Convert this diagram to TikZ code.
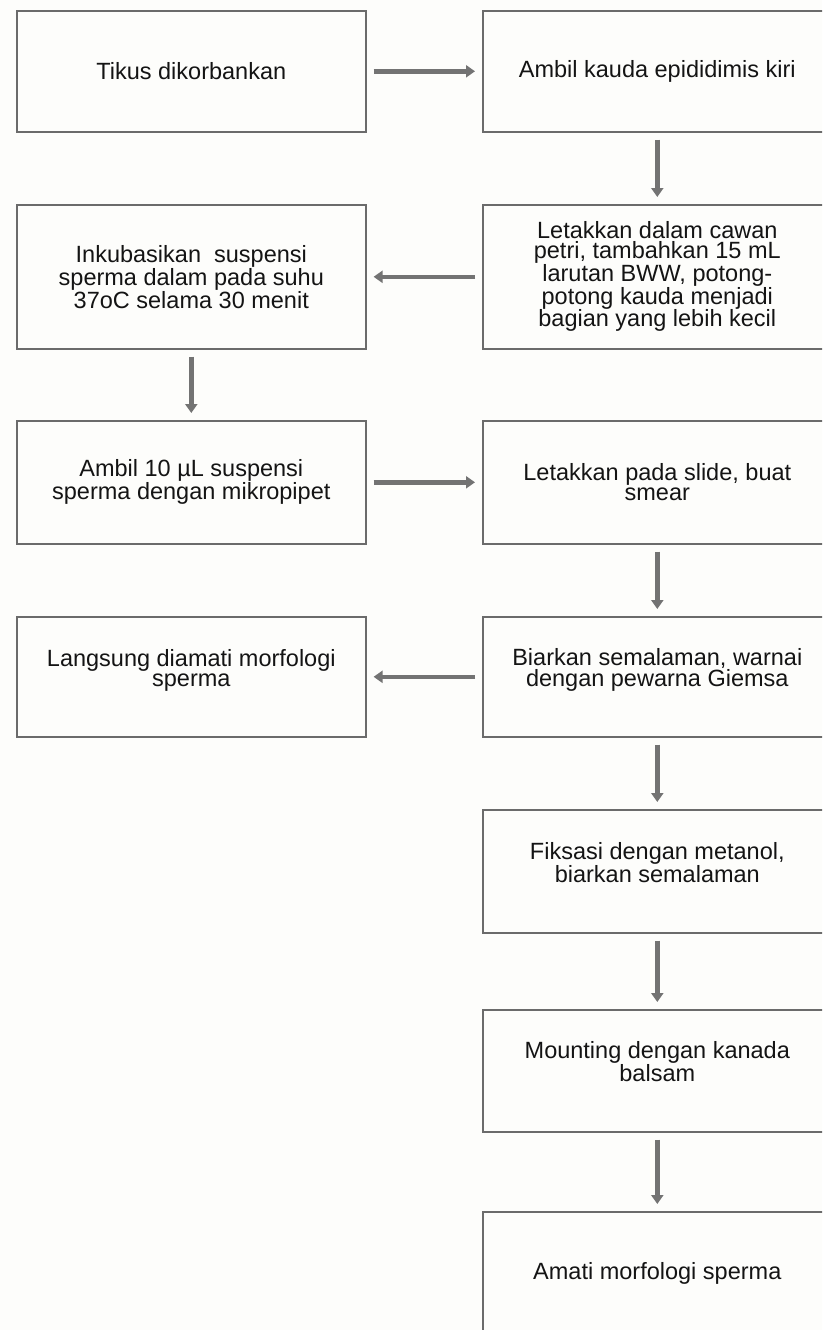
\documentclass[tikz,border=0pt]{standalone}
\usepackage{fontspec}
\setmainfont{Liberation Sans}
\usetikzlibrary{arrows.meta}
\definecolor{bg}{HTML}{FDFDFB}
\definecolor{edge}{HTML}{6B6B6B}
\definecolor{arr}{HTML}{737373}
\definecolor{txt}{HTML}{141414}
\tikzset{
  box/.style={draw=edge, line width=1.6pt, fill=bg, minimum width=349pt, inner sep=0pt,
    align=center, font=\fontsize{23.5}{19.5}\selectfont, text=txt, anchor=north west},
  lift/.style={text depth=18pt},
  flow/.style={draw=arr, line width=4.5pt, shorten <=7pt, shorten >=7pt,
    -{Triangle[length=9pt,width=12pt]}},
}
\begin{document}
\begin{tikzpicture}[x=1pt,y=-1pt]
\useasboundingbox (0,0) rectangle (822,1330);
\fill[bg] (0,0) rectangle (822,1330);
\clip (0,0) rectangle (822,1330);
\node[box, minimum height=121pt] (b1) at (16,10) {Tikus dikorbankan};
\node[box, minimum height=121pt] (b2) at (482,10) {Ambil kauda epididimis kiri};
\node[box, minimum height=144pt] (b3) at (16,204) {Inkubasikan\ \ suspensi\\sperma dalam pada suhu\\37oC selama 30 menit};
\node[box, minimum height=144pt] (b4) at (482,204) {Letakkan dalam cawan\\petri, tambahkan 15 mL\\larutan BWW, potong-\\potong kauda menjadi\\bagian yang lebih kecil};
\node[box, minimum height=123pt] (b5) at (16,420) {Ambil 10 µL suspensi\\sperma dengan mikropipet};
\node[box, minimum height=123pt] (b6) at (482,420) {Letakkan pada slide, buat\\smear};
\node[box, lift, minimum height=120pt] (b8) at (16,616) {Langsung diamati morfologi\\sperma};
\node[box, lift, minimum height=120pt] (b7) at (482,616) {Biarkan semalaman, warnai\\dengan pewarna Giemsa};
\node[box, lift, minimum height=123pt] (b9) at (482,809) {Fiksasi dengan metanol,\\biarkan semalaman};
\node[box, lift, minimum height=122pt] (b10) at (482,1009) {Mounting dengan kanada\\balsam};
\node[box, minimum height=124pt] (b11) at (482,1211) {Amati morfologi sperma};
\draw[flow] (b1) -- (b2);
\draw[flow] (b2) -- (b4);
\draw[flow] (b4) -- (b3);
\draw[flow] (b3) -- (b5);
\draw[flow] (b5) -- (b6);
\draw[flow] (b6) -- (b7);
\draw[flow] (b7) -- (b8);
\draw[flow] (b7) -- (b9);
\draw[flow] (b9) -- (b10);
\draw[flow] (b10) -- (b11);
\end{tikzpicture}
\end{document}
